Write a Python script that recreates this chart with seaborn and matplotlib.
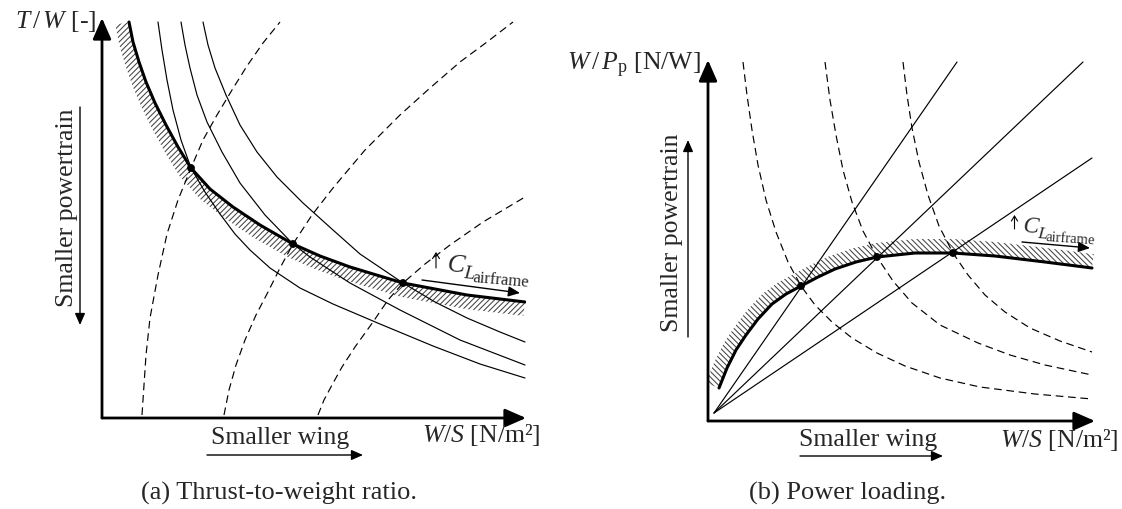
import numpy as np
import matplotlib
matplotlib.use("Agg")
import matplotlib.pyplot as plt
import seaborn as sns
from matplotlib.patches import ArrowStyle

# ---------------- data (schematic units) ----------------
# Panel (a): thrust-to-weight ratio
tw_main_x = [2.7, 3.1, 3.7, 4.4, 5.3, 6.4, 7.6, 8.9, 10.8, 13.1, 15.8, 19.1, 21.8, 24.8, 30.1, 36.5, 42.3]
tw_main_y = [39.6, 37.6, 35.6, 33.6, 31.5, 29.3, 27.1, 25.0, 22.9, 21.1, 19.3, 17.4, 16.2, 15.1, 13.5, 12.3, 11.6]

tw_thin1_x = [5.6, 6.0, 6.5, 7.1, 7.9, 8.9, 10.3, 11.8, 13.3, 14.8, 16.8, 19.8, 23.1, 27.8, 33.1, 37.8, 42.3]
tw_thin1_y = [39.6, 36.8, 33.8, 30.8, 27.8, 25.0, 22.6, 20.4, 18.4, 16.8, 15.0, 13.0, 11.4, 9.4, 7.2, 5.4, 4.0]
tw_thin2_x = [7.9, 8.3, 8.8, 9.5, 10.5, 12.0, 13.8, 16.3, 19.1, 20.8, 24.8, 29.8, 35.8, 42.3]
tw_thin2_y = [39.6, 37.3, 35.0, 32.3, 29.6, 26.6, 23.5, 20.3, 17.4, 16.1, 13.5, 10.8, 7.8, 5.3]
tw_thin3_x = [10.1, 10.6, 11.3, 12.4, 13.8, 15.5, 17.5, 20.1, 23.1, 25.8, 30.1, 33.3, 36.5, 39.8, 42.3]
tw_thin3_y = [39.6, 37.3, 35.0, 32.3, 29.3, 26.6, 24.1, 21.5, 18.8, 16.4, 13.5, 11.6, 10.0, 8.6, 7.6]

tw_dash1_x = [4.0, 4.2, 4.4, 4.8, 5.6, 6.5, 7.6, 8.9, 10.1, 11.5, 13.0, 14.5, 16.1, 17.8]
tw_dash1_y = [0.3, 3.3, 6.3, 10.0, 14.3, 18.4, 21.8, 25.0, 27.8, 30.3, 32.8, 35.2, 37.5, 39.6]
tw_dash2_x = [12.2, 12.7, 13.4, 14.3, 15.4, 16.6, 17.8, 19.1, 21.0, 23.1, 26.3, 29.8, 32.8, 35.8, 38.5, 41.1]
tw_dash2_y = [0.3, 2.8, 5.3, 7.8, 10.3, 12.6, 15.0, 17.4, 20.3, 23.0, 26.8, 30.3, 33.0, 35.6, 37.6, 39.6]
tw_dash3_x = [21.6, 22.2, 23.0, 24.0, 25.3, 27.1, 28.6, 30.1, 32.3, 34.8, 38.1, 42.3]
tw_dash3_y = [0.3, 1.8, 3.3, 5.1, 7.1, 9.6, 11.8, 13.5, 15.4, 17.3, 19.6, 22.1]

tw_dots_x = [8.9, 19.1, 30.1]
tw_dots_y = [25.0, 17.4, 13.5]

# Panel (b): power loading
wp_main_x = [1.1, 1.9, 2.8, 3.8, 5.0, 6.4, 7.8, 9.3, 11.0, 12.7, 14.8, 16.9, 20.7, 24.5, 28.7, 33.7, 38.4]
wp_main_y = [3.3, 5.3, 7.1, 8.6, 10.2, 11.7, 12.7, 13.5, 14.4, 15.2, 15.9, 16.4, 16.8, 16.8, 16.5, 15.9, 15.3]

wp_ray_origin = (0.6, 0.8)
wp_ray_end_x = [24.9, 37.5, 38.4]
wp_ray_end_y = [35.9, 35.9, 26.3]

wp_dash1_x = [3.5, 3.9, 4.4, 5.0, 5.8, 6.8, 8.0, 9.3, 10.7, 12.4, 14.4, 16.9, 19.7, 23.2, 27.2, 32.7, 38.4]
wp_dash1_y = [35.9, 32.6, 29.1, 25.6, 22.1, 18.9, 15.9, 13.5, 11.6, 9.9, 8.3, 6.8, 5.5, 4.3, 3.4, 2.7, 2.2]
wp_dash2_x = [11.7, 12.2, 12.8, 13.5, 14.4, 15.5, 16.9, 18.5, 20.4, 23.2, 27.0, 30.2, 33.7, 38.4]
wp_dash2_y = [35.9, 32.1, 28.6, 25.1, 21.9, 19.0, 16.4, 14.0, 11.8, 9.6, 7.8, 6.6, 5.6, 4.6]
wp_dash3_x = [19.5, 19.9, 20.4, 21.1, 22.0, 23.1, 24.5, 26.0, 27.7, 29.7, 32.2, 35.2, 38.4]
wp_dash3_y = [35.9, 32.6, 29.3, 25.9, 22.6, 19.5, 16.8, 14.6, 12.6, 10.9, 9.3, 8.0, 6.9]

wp_dots_x = [9.3, 16.9, 24.5]
wp_dots_y = [13.5, 16.4, 16.8]

# ---------------- style ----------------
sns.set_style("white")
plt.rcParams["font.family"] = ["Liberation Serif", "DejaVu Serif"]
plt.rcParams["mathtext.fontset"] = "custom"
plt.rcParams["mathtext.rm"] = "Liberation Serif"
plt.rcParams["mathtext.it"] = "Liberation Serif:italic"
plt.rcParams["mathtext.bf"] = "Liberation Serif:bold"
plt.rcParams["hatch.linewidth"] = 0.75

FS = 18.5
THICK, THIN = 2.2, 0.85
DASH = (0, (6.5, 4))

fig = plt.figure(figsize=(11.22, 5.09), dpi=100)
axA = fig.add_axes([102 / 1122, 91 / 509, 424 / 1122, 400 / 509])
axB = fig.add_axes([708 / 1122, 88 / 509, 387 / 1122, 361 / 509])
axA.set_xlim(0, 42.4); axA.set_ylim(0, 40.0)
axB.set_xlim(0, 38.7); axB.set_ylim(0, 36.1)
for ax in (axA, axB):
    ax.set_axis_off()
renderer = fig.canvas.get_renderer()


def line(ax, x, y, lw, ls="-", z=2):
    sns.lineplot(x=x, y=y, ax=ax, color="black", linewidth=lw, linestyle=ls,
                 sort=False, estimator=None, zorder=z, legend=False)


def band(ax, x, y, width_px, side, hatch):
    pts = ax.transData.transform(np.column_stack([x, y]))
    d = np.gradient(pts, axis=0)
    d /= np.linalg.norm(d, axis=1, keepdims=True)
    n = np.column_stack([-d[:, 1], d[:, 0]]) * side
    off = pts + n * width_px
    poly = ax.transData.inverted().transform(np.vstack([pts, off[::-1]]))
    ax.fill(poly[:, 0], poly[:, 1], facecolor="none", edgecolor="#444444",
            hatch=hatch, linewidth=0, zorder=1)


def arrow(ax, start, end, lw, scale, head=(0.5, 0.22), style="-|>"):
    st = ArrowStyle(style, head_length=head[0], head_width=head[1])
    ax.annotate("", xy=end, xytext=start, xycoords="data",
                arrowprops=dict(arrowstyle=st, lw=lw, color="black",
                                mutation_scale=scale, shrinkA=0, shrinkB=0),
                annotation_clip=False)


def text_width(s, fs, **kw):
    t = fig.text(0, 0, s, fontsize=fs, **kw)
    w = t.get_window_extent(renderer).width
    t.remove()
    return w


def cl_label(ax, x, y, sizes, offs, rot):
    # "C" with subscript "L" and sub-subscript "airframe", tilted along the arrow
    th = np.deg2rad(rot)
    u = np.array([np.cos(th), np.sin(th)])
    v = np.array([-np.sin(th), np.cos(th)])
    p0 = ax.transData.transform((x, y))
    wC = text_width("C", sizes[0], style="italic")
    wL = text_width("L", sizes[1], style="italic")
    p1 = p0 + u * (wC - 1) - v * offs[0]
    p2 = p1 + u * (wL - 1) - v * offs[1]
    for p, s, fs, st in [(p0, "C", sizes[0], "italic"), (p1, "L", sizes[1], "italic"),
                         (p2, "airframe", sizes[2], "normal")]:
        xd, yd = ax.transData.inverted().transform(p)
        ax.text(xd, yd, s, fontsize=fs, style=st, rotation=rot, rotation_mode="anchor",
                ha="left", va="baseline")


# ---------------- panel (a) ----------------
band(axA, tw_main_x, tw_main_y, 14, -1, "//////")
for xs, ys in [(tw_thin1_x, tw_thin1_y), (tw_thin2_x, tw_thin2_y), (tw_thin3_x, tw_thin3_y)]:
    line(axA, xs, ys, THIN)
for xs, ys in [(tw_dash1_x, tw_dash1_y), (tw_dash2_x, tw_dash2_y), (tw_dash3_x, tw_dash3_y)]:
    line(axA, xs, ys, THIN, DASH)
line(axA, tw_main_x, tw_main_y, THICK, z=3)
sns.scatterplot(x=tw_dots_x, y=tw_dots_y, ax=axA, color="black", s=32,
                edgecolor="none", zorder=4, legend=False)

arrow(axA, (0, 0), (0, 40.0), 2.0, 16, head=(0.8, 0.35))
arrow(axA, (0, 0), (42.4, 0), 2.0, 16, head=(0.8, 0.35))

axA.text(-0.6, 39.6, r"$T\,/\,W$ [-]", ha="right", va="center", fontsize=FS)
axA.text(-3.5, 21.0, "Smaller powertrain", rotation=90, ha="center", va="center", fontsize=FS)
arrow(axA, (-2.2, 31.1), (-2.2, 9.3), 1.0, 14)
axA.text(17.8, -2.0, "Smaller wing", ha="center", va="center", fontsize=FS)
arrow(axA, (10.5, -3.7), (26.1, -3.7), 1.0, 14)
axA.text(32.0, -1.7, r"$W/S$ [N/m²]", ha="left", va="center", fontsize=FS)
axA.text(17.7, -7.5, "(a) Thrust-to-weight ratio.", ha="center", va="center", fontsize=19)
arrow(axA, (33.4, 15.0), (33.4, 16.6), 0.8, 10, head=(0.4, 0.25), style="->")
cl_label(axA, 34.5, 14.7, (19, 14, 12), (6, 3), -5)
arrow(axA, (32.0, 13.8), (41.8, 12.5), 1.0, 14)

# ---------------- panel (b) ----------------
band(axB, wp_main_x, wp_main_y, 14, 1, "\\\\\\\\\\\\")
for ex, ey in zip(wp_ray_end_x, wp_ray_end_y):
    line(axB, [wp_ray_origin[0], ex], [wp_ray_origin[1], ey], THIN)
for xs, ys in [(wp_dash1_x, wp_dash1_y), (wp_dash2_x, wp_dash2_y), (wp_dash3_x, wp_dash3_y)]:
    line(axB, xs, ys, THIN, DASH)
line(axB, wp_main_x, wp_main_y, THICK, z=3)
sns.scatterplot(x=wp_dots_x, y=wp_dots_y, ax=axB, color="black", s=32,
                edgecolor="none", zorder=4, legend=False)

arrow(axB, (0, 0), (0, 36.1), 2.0, 16, head=(0.8, 0.35))
arrow(axB, (0, 0), (38.7, 0), 2.0, 16, head=(0.8, 0.35))

axB.text(-0.7, 35.6, r"$W\,/\,P_{\mathrm{p}}$ [N/W]", ha="right", va="center", fontsize=FS)
axB.text(-3.6, 18.8, "Smaller powertrain", rotation=90, ha="center", va="center", fontsize=FS)
arrow(axB, (-2.0, 8.4), (-2.0, 28.1), 1.0, 14)
axB.text(16.0, -1.9, "Smaller wing", ha="center", va="center", fontsize=FS)
arrow(axB, (9.2, -3.5), (23.5, -3.5), 1.0, 14)
axB.text(29.2, -1.9, r"$W/S$ [N/m²]", ha="left", va="center", fontsize=FS)
axB.text(14.0, -7.2, "(b) Power loading.", ha="center", va="center", fontsize=19)
arrow(axB, (30.65, 19.2), (30.65, 20.6), 0.8, 9, head=(0.4, 0.25), style="->")
cl_label(axB, 31.5, 18.9, (17, 12.5, 10.5), (5, 2.5), -4)
arrow(axB, (31.4, 17.9), (38.2, 17.3), 1.0, 14)

fig.savefig("out.png", dpi=100)
